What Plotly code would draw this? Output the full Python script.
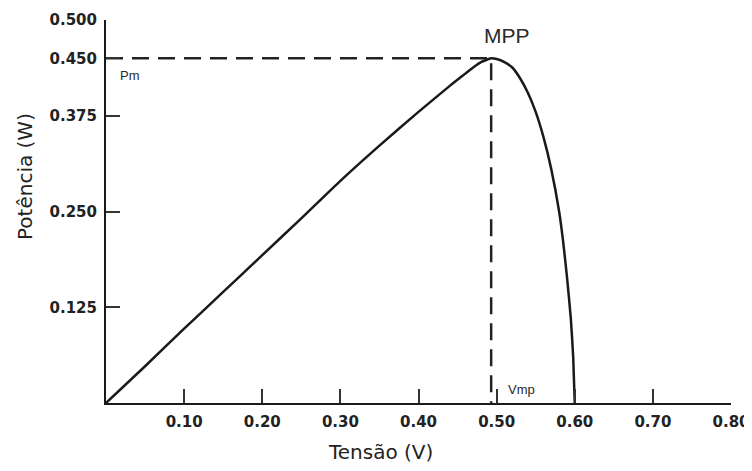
import plotly.graph_objects as go

# curva P x V da célula
tensao = [0, 0.05, 0.10, 0.15, 0.20, 0.25, 0.30, 0.35, 0.40, 0.44, 0.46, 0.47, 0.48, 0.493,
          0.50, 0.51, 0.52, 0.53, 0.54, 0.55, 0.56, 0.57, 0.58, 0.585, 0.59, 0.595, 0.598, 0.60]
potencia = [0, 0.048, 0.097, 0.145, 0.193, 0.241, 0.290, 0.336, 0.380, 0.414, 0.430, 0.438, 0.445, 0.450,
            0.449, 0.445, 0.438, 0.424, 0.405, 0.380, 0.347, 0.305, 0.250, 0.212, 0.165, 0.110, 0.060, 0]

v_mp = 0.493
p_m = 0.450

x_ticks = [0.10, 0.20, 0.30, 0.40, 0.50, 0.60, 0.70, 0.80]
x_labels = ['0.10', '0.20', '0.30', '0.40', '0.50', '0.60', '0.70', '0.80']
y_ticks = [0.125, 0.250, 0.375, 0.450, 0.500]
y_labels = ['0.125', '0.250', '0.375', '0.450', '0.500']

ink = '#1a1a1a'
tick_font = dict(family='DejaVu Sans', size=15, color='#222')

# o body da página tem 8px de margem: figura menor para não gerar barra de rolagem
PAGE = 8
L, R, T, B = 106, 21, 20, 68
W_PLOT, H_PLOT = 752 - L - R, 471 - T - B


def px(x, y):
    return (x - L) / W_PLOT, (471 - B - y) / H_PLOT


fig = go.Figure()

# linhas tracejadas do MPP
fig.add_trace(go.Scatter(x=[0, v_mp, v_mp], y=[p_m, p_m, 0],
                         mode='lines',
                         line=dict(color='#222', width=2.5, dash='17px,9px'),
                         hoverinfo='skip', showlegend=False))

# curva de potencia
fig.add_trace(go.Scatter(x=tensao, y=potencia,
                         mode='lines',
                         line=dict(color=ink, width=2.5, shape='spline', smoothing=0.5),
                         name='P(V)', showlegend=False))

fig.update_xaxes(range=[0, 0.8], automargin=False,
                 tickvals=x_ticks, ticktext=['<b>%s</b>' % s for s in x_labels],
                 ticks='inside', ticklen=14, tickwidth=1.5, tickcolor='#333',
                 showline=True, linecolor=ink, linewidth=2,
                 showgrid=False, zeroline=False, ticklabeloverflow='allow',
                 tickfont=tick_font, ticklabelstandoff=4)
fig.update_yaxes(range=[0, 0.5], automargin=False,
                 tickvals=y_ticks, ticktext=['<b>%s</b>' % s for s in y_labels],
                 ticks='inside', ticklen=14, tickwidth=1.5, tickcolor='#333',
                 showline=True, linecolor=ink, linewidth=2,
                 showgrid=False, zeroline=False, ticklabeloverflow='allow',
                 tickfont=tick_font, ticklabelstandoff=4)

annots = [
    dict(text='MPP', x=507, y=36, size=21),
    dict(text='Pm', x=130, y=76, size=13),
    dict(text='Vmp', x=521, y=389, size=13),
]
for a in annots:
    ax, ay = px(a['x'], a['y'])
    fig.add_annotation(text=a['text'], xref='paper', yref='paper', x=ax, y=ay,
                       xanchor='center', yanchor='middle', showarrow=False,
                       font=dict(family='Liberation Sans', size=a['size'], color='#2a2a2a'))

# titulos dos eixos
ax, ay = px(380, 452)
fig.add_annotation(text='Tensão (V)', xref='paper', yref='paper', x=ax, y=ay,
                   xanchor='center', yanchor='middle', showarrow=False,
                   font=dict(family='DejaVu Sans', size=20, color='#222'))
ax, ay = px(25, 177)
fig.add_annotation(text='Potência (W)', xref='paper', yref='paper', x=ax, y=ay,
                   xanchor='center', yanchor='middle', showarrow=False, textangle=-90,
                   font=dict(family='DejaVu Sans', size=20, color='#222'))

fig.update_layout(width=752 - PAGE, height=471 - 2 * PAGE,
                  margin=dict(l=L - PAGE, r=R, t=T - PAGE, b=B - PAGE),
                  plot_bgcolor='white', paper_bgcolor='white')

fig.write_html("out.html")
